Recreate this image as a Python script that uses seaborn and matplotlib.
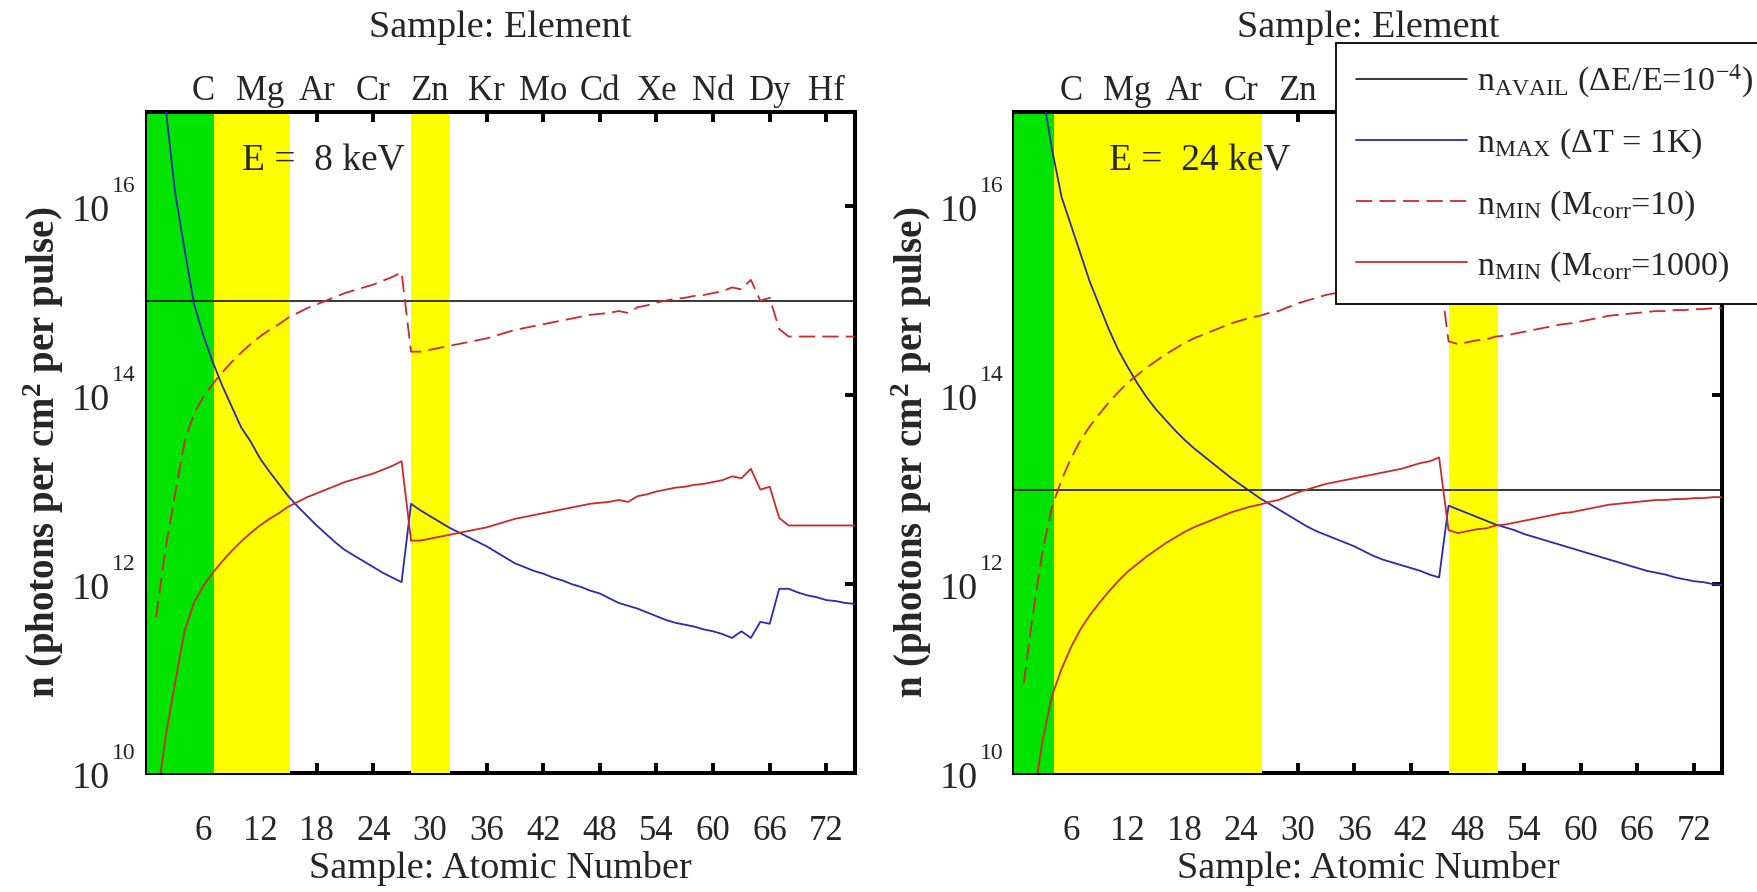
import numpy as np
import pandas as pd
import matplotlib
matplotlib.use("Agg")
import matplotlib.pyplot as plt
import matplotlib.transforms as mtransforms
from matplotlib.lines import Line2D
from matplotlib.ticker import FixedLocator, NullLocator, NullFormatter
import seaborn as sns

# ---------------- data ----------------
Z = list(range(1, 76))
element_ticks = [6, 12, 18, 24, 30, 36, 42, 48, 54, 60, 66, 72]
element_labels = ["C", "Mg", "Ar", "Cr", "Zn", "Kr", "Mo", "Cd", "Xe", "Nd", "Dy", "Hf"]
ytick_exponents = [10, 12, 14, 16]
energies_keV = ["8", "24"]

# log10(n), Z = 1..75
log_nmax_8keV = [18.00, 17.05, 16.15, 15.55, 14.97, 14.63, 14.35, 14.10, 13.88, 13.66,
                 13.51, 13.33, 13.19, 13.06, 12.93, 12.82, 12.72, 12.62, 12.53, 12.44,
                 12.36, 12.30, 12.24, 12.18, 12.12, 12.07, 12.02, 12.85, 12.78, 12.72,
                 12.66, 12.60, 12.55, 12.50, 12.45, 12.40, 12.34, 12.28, 12.22, 12.18,
                 12.14, 12.11, 12.07, 12.04, 12.00, 11.97, 11.93, 11.90, 11.85, 11.80,
                 11.77, 11.74, 11.70, 11.66, 11.62, 11.59, 11.57, 11.55, 11.52, 11.50,
                 11.47, 11.43, 11.50, 11.43, 11.60, 11.58, 11.95, 11.95, 11.91, 11.88,
                 11.86, 11.83, 11.82, 11.80, 11.79]
log_nmin10_8keV = [11.65, 12.38, 12.95, 13.50, 13.80, 13.98, 14.12, 14.24, 14.35, 14.45,
                   14.54, 14.62, 14.69, 14.75, 14.82, 14.87, 14.92, 14.96, 15.00, 15.04,
                   15.08, 15.11, 15.14, 15.17, 15.21, 15.25, 15.30, 14.46, 14.46, 14.48,
                   14.50, 14.52, 14.54, 14.56, 14.58, 14.60, 14.63, 14.66, 14.69, 14.71,
                   14.73, 14.75, 14.77, 14.79, 14.81, 14.83, 14.85, 14.86, 14.87, 14.89,
                   14.87, 14.93, 14.95, 14.98, 15.00, 15.02, 15.03, 15.05, 15.06, 15.08,
                   15.10, 15.14, 15.12, 15.22, 15.00, 15.03, 14.70, 14.62, 14.62, 14.62,
                   14.62, 14.62, 14.62, 14.62, 14.62]
log_nmin1000_8keV = [9.65, 10.38, 10.95, 11.50, 11.80, 11.98, 12.12, 12.24, 12.35, 12.45,
                     12.54, 12.62, 12.69, 12.75, 12.82, 12.87, 12.92, 12.96, 13.00, 13.04,
                     13.08, 13.11, 13.14, 13.17, 13.21, 13.25, 13.30, 12.46, 12.46, 12.48,
                     12.50, 12.52, 12.54, 12.56, 12.58, 12.60, 12.63, 12.66, 12.69, 12.71,
                     12.73, 12.75, 12.77, 12.79, 12.81, 12.83, 12.85, 12.86, 12.87, 12.89,
                     12.87, 12.93, 12.95, 12.98, 13.00, 13.02, 13.03, 13.05, 13.06, 13.08,
                     13.10, 13.14, 13.12, 13.22, 13.00, 13.03, 12.70, 12.62, 12.62, 12.62,
                     12.62, 12.62, 12.62, 12.62, 12.62]

log_nmax_24keV = [19.00, 18.00, 17.20, 16.60, 16.10, 15.80, 15.50, 15.20, 14.95, 14.70,
                  14.48, 14.30, 14.13, 13.98, 13.85, 13.74, 13.63, 13.53, 13.44, 13.36,
                  13.28, 13.20, 13.12, 13.05, 12.98, 12.91, 12.85, 12.79, 12.73, 12.67,
                  12.61, 12.56, 12.52, 12.48, 12.44, 12.40, 12.35, 12.30, 12.26, 12.23,
                  12.20, 12.17, 12.14, 12.10, 12.07, 12.83, 12.79, 12.75, 12.71, 12.67,
                  12.63, 12.60, 12.57, 12.53, 12.50, 12.47, 12.44, 12.41, 12.38, 12.35,
                  12.32, 12.29, 12.26, 12.23, 12.20, 12.17, 12.14, 12.12, 12.10, 12.07,
                  12.05, 12.03, 12.02, 12.00, 11.99]
log_nmin10_24keV = [10.95, 11.70, 12.35, 12.82, 13.10, 13.33, 13.52, 13.67, 13.80, 13.92,
                    14.03, 14.13, 14.21, 14.29, 14.36, 14.43, 14.49, 14.55, 14.60, 14.64,
                    14.68, 14.72, 14.76, 14.79, 14.82, 14.84, 14.87, 14.89, 14.93, 14.97,
                    15.00, 15.03, 15.06, 15.08, 15.10, 15.12, 15.14, 15.16, 15.18, 15.20,
                    15.22, 15.25, 15.28, 15.30, 15.34, 14.57, 14.54, 14.56, 14.58, 14.59,
                    14.62, 14.63, 14.65, 14.67, 14.69, 14.71, 14.73, 14.75, 14.76, 14.78,
                    14.80, 14.82, 14.84, 14.85, 14.86, 14.87, 14.88, 14.89, 14.89, 14.90,
                    14.90, 14.91, 14.91, 14.92, 14.92]
log_nmin1000_24keV = [8.95, 9.70, 10.35, 10.82, 11.10, 11.33, 11.52, 11.67, 11.80, 11.92,
                      12.03, 12.13, 12.21, 12.29, 12.36, 12.43, 12.49, 12.55, 12.60, 12.64,
                      12.68, 12.72, 12.76, 12.79, 12.82, 12.84, 12.87, 12.89, 12.93, 12.97,
                      13.00, 13.03, 13.06, 13.08, 13.10, 13.12, 13.14, 13.16, 13.18, 13.20,
                      13.22, 13.25, 13.28, 13.30, 13.34, 12.57, 12.54, 12.56, 12.58, 12.59,
                      12.62, 12.63, 12.65, 12.67, 12.69, 12.71, 12.73, 12.75, 12.76, 12.78,
                      12.80, 12.82, 12.84, 12.85, 12.86, 12.87, 12.88, 12.89, 12.89, 12.90,
                      12.90, 12.91, 12.91, 12.92, 12.92]

log_navail = [15.0, 13.0]
green_spans = [(0.0, 7.1), (0.0, 4.24)]
yellow_spans = [[(7.1, 15.2), (28.0, 32.1)], [(4.24, 26.2), (46.0, 51.2)]]

panels = [
    (log_nmax_8keV, log_nmin10_8keV, log_nmin1000_8keV),
    (log_nmax_24keV, log_nmin10_24keV, log_nmin1000_24keV),
]

# ---------------- style ----------------
sns.set_style("white")
plt.rcParams["font.family"] = ["Liberation Serif", "DejaVu Serif"]
plt.rcParams["mathtext.fontset"] = "custom"
plt.rcParams["mathtext.rm"] = "Liberation Serif"
plt.rcParams["mathtext.it"] = "Liberation Serif:italic"
plt.rcParams["mathtext.bf"] = "Liberation Serif:bold"

GREEN = "#00E400"
YELLOW = "#FFFF00"
BLUE = "#2A2AB0"
RED = "#CC2A2A"
DASH = (0, (9, 4))

W, H = 1757, 892
fig = plt.figure(figsize=(W / 100, H / 100), dpi=100)

ax_lefts = [146.7, 1014.3]
ax_w = 708.0
ax_top, ax_bot = 111.7, 773.0

TICK_FS = 25
for i, (nmax, nmin10, nmin1000) in enumerate(panels):
    ax = fig.add_axes([ax_lefts[i] / W, 1 - ax_bot / H, ax_w / W, (ax_bot - ax_top) / H])
    ax.set_yscale("log")
    ax.set_xlim(0, 75)
    ax.set_ylim(1e10, 1e17)
    ax.set_axisbelow(True)

    for a, b in yellow_spans[i]:
        ax.axvspan(a, b, color=YELLOW, lw=0, zorder=1)
    ax.axvspan(*green_spans[i], color=GREEN, lw=0, zorder=1)

    ax.axhline(10 ** log_navail[i], color="black", lw=1.1, zorder=2)

    df = pd.DataFrame({
        "Z": Z,
        "nmax": 10 ** np.array(nmax),
        "nmin10": 10 ** np.array(nmin10),
        "nmin1000": 10 ** np.array(nmin1000),
    })
    sns.lineplot(data=df, x="Z", y="nmax", color=BLUE, lw=1.3, estimator=None, ax=ax, zorder=3)
    sns.lineplot(data=df, x="Z", y="nmin10", color=RED, lw=1.3, linestyle=DASH,
                 estimator=None, ax=ax, zorder=3)
    sns.lineplot(data=df, x="Z", y="nmin1000", color=RED, lw=1.3, estimator=None, ax=ax, zorder=3)

    ax.set_xlabel("")
    ax.set_ylabel("")

    # spines
    for side in ["left", "right", "top", "bottom"]:
        ax.spines[side].set_visible(True)
        ax.spines[side].set_linewidth(2.9)
        ax.spines[side].set_color("black")
    ax.spines["bottom"].set_zorder(0.6)
    ax.spines["left"].set_zorder(0.6)

    # ticks
    ax.xaxis.set_major_locator(FixedLocator(element_ticks))
    ax.set_xticklabels([str(t) for t in element_ticks])
    ax.yaxis.set_major_locator(FixedLocator([10.0 ** e for e in ytick_exponents]))
    ax.yaxis.set_minor_locator(NullLocator())
    ax.yaxis.set_major_formatter(NullFormatter())
    ax.yaxis.set_minor_formatter(NullFormatter())
    ax.tick_params(axis="both", which="major", direction="in", length=7, width=2.8,
                   top=True, right=True, left=True, bottom=True, color="black")
    ax.tick_params(axis="x", labelsize=TICK_FS, pad=30)
    ax.tick_params(axis="y", labelleft=False)

    # y tick labels in MATLAB style
    blend = mtransforms.blended_transform_factory(ax.transAxes, ax.transData)
    for e in ytick_exponents:
        ax.annotate("10", xy=(0, 10.0 ** e), xycoords=blend, xytext=(-26.5, -11.0),
                    textcoords="offset points", ha="right", va="baseline",
                    fontsize=27.5, annotation_clip=False)
        ax.annotate(str(e), xy=(0, 10.0 ** e), xycoords=blend, xytext=(-25.0, 10.0),
                    textcoords="offset points", ha="left", va="baseline",
                    fontsize=17, annotation_clip=False)

    # top element labels
    blend_x = mtransforms.blended_transform_factory(ax.transData, ax.transAxes)
    for t, lab in zip(element_ticks, element_labels):
        ax.annotate(lab, xy=(t, 1.0), xycoords=blend_x, xytext=(0, 8.4),
                    textcoords="offset points", ha="center", va="baseline",
                    fontsize=TICK_FS, annotation_clip=False)

    ax.text(0.5, 1.113, "Sample: Element", transform=ax.transAxes, ha="center",
            va="baseline", fontsize=27.5)
    ax.text(0.5, -0.1588, "Sample: Atomic Number", transform=ax.transAxes, ha="center",
            va="baseline", fontsize=27.5)
    ax.text(0.134, 0.911, "E =  " + energies_keV[i] + " keV", transform=ax.transAxes,
            ha="left", va="baseline", fontsize=27)

    fig.text((ax_lefts[i] - 91.5) / W, 1 - 452 / H,
             r"n (photons per cm$^{\mathbf{2}}$ per pulse)", rotation=90,
             rotation_mode="anchor", ha="center", va="baseline",
             fontsize=28, fontweight="bold")

# legend
handles = [
    Line2D([], [], color="black", lw=1.1),
    Line2D([], [], color=BLUE, lw=1.3),
    Line2D([], [], color=RED, lw=1.3, linestyle=DASH),
    Line2D([], [], color=RED, lw=1.3),
]
labels = [
    r"n$_{\mathregular{AVAIL}}$ (ΔE/E=10$^{\mathregular{-4}}$)",
    r"n$_{\mathregular{MAX}}$ (ΔT = 1K)",
    r"n$_{\mathregular{MIN}}$ (M$_{\mathregular{corr}}$=10)",
    r"n$_{\mathregular{MIN}}$ (M$_{\mathregular{corr}}$=1000)",
]
leg = fig.legend(handles, labels, loc="upper left",
                 bbox_to_anchor=(1336 / W, 0.5, 0.26, 1 - 43 / H - 0.5),
                 mode="expand", borderaxespad=0, frameon=True, fancybox=False,
                 edgecolor="black", framealpha=1, fontsize=24.5,
                 handlelength=3.25, handletextpad=0.3, borderpad=0.6,
                 labelspacing=0.78)
leg.get_frame().set_linewidth(1.3)

fig.savefig("out.png", dpi=100)
